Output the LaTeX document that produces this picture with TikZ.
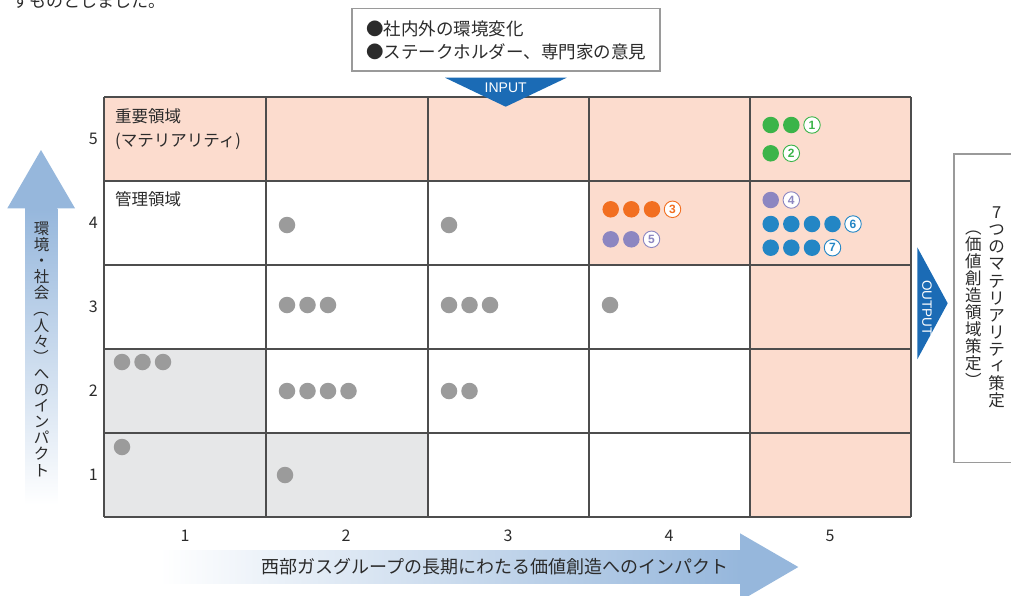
\documentclass[tikz,border=0pt]{standalone}
\usepackage{graphicx}
\usepackage{fontspec}
\setmainfont{Noto Sans CJK JP}
\newfontfamily\vfont{Noto Sans CJK JP}
\newfontfamily\numfont{Liberation Sans}
\definecolor{pinkc}{HTML}{FCDCCE}
\definecolor{grayc}{HTML}{E6E7E8}
\definecolor{gridc}{HTML}{4D4D4D}
\definecolor{boxc}{HTML}{9A9A9A}
\definecolor{txtc}{HTML}{2B2B2B}
\definecolor{arrowblue}{HTML}{96B7DC}
\definecolor{outblue}{HTML}{1B6BB5}
\definecolor{dgray}{HTML}{9B9B9B}
\definecolor{dgreen}{HTML}{3BB449}
\definecolor{dorange}{HTML}{F26F21}
\definecolor{dpurple}{HTML}{8C86C1}
\definecolor{dblue}{HTML}{2386C5}
\newcommand{\smallI}{\makebox[1em]{\hspace{0.15em}\raisebox{0.15em}{ィ}}}
\newcommand{\vlp}{\makebox[1em]{\rotatebox[origin=c]{-90}{（}}}
\newcommand{\vrp}{\makebox[1em]{\rotatebox[origin=c]{-90}{）}}}
\tikzset{
  gridline/.style={draw=gridc, line width=1.2pt},
  dotc/.style={circle, fill=#1, minimum size=16.5pt, inner sep=0pt},
  num/.style={circle, draw=#1, fill=white, line width=0.9pt, minimum size=16.5pt, inner sep=0pt, text=#1, font=\numfont\bfseries\fontsize{12}{12}\selectfont},
  jtext/.style={text=txtc, inner sep=0pt},
  axnum/.style={text=txtc, inner sep=0pt, font=\fontsize{16}{16}\selectfont},
}
\begin{document}
\begin{tikzpicture}[x=1pt,y=-1pt]
\path[use as bounding box, clip] (0,0) rectangle (1011,595);
% cut-off text at top left
\node[jtext, anchor=west, font=\fontsize{17}{17}\selectfont] (frag) at (12,1.5) {すものとしました。};
% cell fills
\fill[pinkc] (104,97) rectangle (911,181);
\fill[pinkc] (589,181) rectangle (911,265);
\fill[pinkc] (750,265) rectangle (911,517);
\fill[grayc] (104,349) rectangle (266,517);
\fill[grayc] (266,433) rectangle (428,517);
% grid
\foreach \x in {104,266,428,589,750,911} \draw[gridline] (\x,97) -- (\x,517);
\foreach \y in {97,181,265,349,433,517} \draw[gridline] (104,\y) -- (911,\y);
% top box
\node[draw=boxc, line width=1.5pt, fill=white, minimum width=308pt, minimum height=62.7pt, inner sep=0pt] (inbox) at (505.9,39.7) {};
\node[jtext, anchor=west, font=\fontsize{17.5}{17.5}\selectfont] (in1) at (366,29.3) {●社内外の環境変化};
\node[jtext, anchor=west, font=\fontsize{17.5}{17.5}\selectfont] (in2) at (366,51.7) {●ステークホルダー、専門家の意見};
% INPUT triangle
\fill[outblue] (445,77.7) -- (566.7,77.7) -- (505.7,106.7) -- cycle;
\node[text=white, inner sep=0pt, font=\numfont\fontsize{14}{14}\selectfont] (inlab) at (505.7,87.5) {INPUT};
% OUTPUT triangle
\fill[outblue] (917.3,247.3) -- (947.7,303.3) -- (917.3,359.3) -- cycle;
\node[text=white, inner sep=0pt, rotate=-90, font=\numfont\fontsize{13.5}{13.5}\selectfont] (outlab) at (927,308) {OUTPUT};
% right box
\node[draw=boxc, line width=1.5pt, fill=white, minimum width=80pt, minimum height=308.4pt, inner sep=0pt, anchor=north west] (outbox) at (953.3,153.3) {};
\node[jtext, align=center, font=\vfont\fontsize{16.5}{17.1}\selectfont] (out1) at (996.7,307.5) {7\\つ\\の\\マ\\テ\\リ\\ア\\リ\\テ\\\smallI\\策\\定};
\node[jtext, align=center, font=\vfont\fontsize{16.5}{17}\selectfont] (out2) at (973.3,304) {\vlp\\価\\値\\創\\造\\領\\域\\策\\定\\\vrp};
% left arrow
\fill[arrowblue] (7.3,208.3) -- (41,150) -- (75,208.3) -- cycle;
\shade[top color=arrowblue, bottom color=white] (25,208) rectangle (57.3,505);
\node[jtext, align=center, font=\vfont\fontsize{15.5}{16.1}\selectfont] (ltext) at (41.7,349.3) {環\\境\\・\\社\\会\\\vlp\\人\\々\\\vrp\\へ\\の\\イ\\ン\\パ\\ク\\ト};
% bottom arrow
\shade[left color=white, right color=arrowblue] (160,550) rectangle (740.5,583.3);
\fill[arrowblue] (740,533.3) -- (798.3,567) -- (740,601) -- cycle;
\node[jtext, font=\fontsize{18}{18}\selectfont] (btext) at (494.7,566.5) {西部ガスグループの長期にわたる価値創造へのインパクト};
% axis numbers
\foreach \t/\y in {5/139,4/223,3/307,2/391,1/475} \node[axnum] (ry\t) at (93.3,\y) {\t};
\foreach \t/\x in {1/185,2/346,3/508,4/669,5/830} \node[axnum] (cx\t) at (\x,535.5) {\t};
% cell labels
\node[jtext, anchor=west, font=\fontsize{16.5}{16.5}\selectfont] (lab1) at (115,116.7) {重要領域};
\node[jtext, anchor=west, font=\fontsize{16.5}{16.5}\selectfont] (lab2) at (115,141) {(マテリアリティ)};
\node[jtext, anchor=west, font=\fontsize{16.5}{16.5}\selectfont] (lab3) at (115,199) {管理領域};
% gray dots
\foreach \p [count=\i] in {(287,225),(449,225),
  (287,305),(307.5,305),(328,305),(449,305),(469.5,305),(490,305),(610,305),
  (122,362),(142.5,362),(163,362),
  (287,391),(307.5,391),(328,391),(348.5,391),(449,391),(469.5,391),
  (122,447),(285,475)}
  \node[dotc=dgray] (g\i) at \p {};
% green
\node[dotc=dgreen] (gr1) at (770.7,125) {};
\node[dotc=dgreen] (gr2) at (791.3,125) {};
\node[num=dgreen] (n1) at (812,125) {1};
\node[dotc=dgreen] (gr3) at (770.7,153.3) {};
\node[num=dgreen] (n2) at (791.3,153.3) {2};
% orange
\node[dotc=dorange] (or1) at (610.7,209.3) {};
\node[dotc=dorange] (or2) at (631.3,209.3) {};
\node[dotc=dorange] (or3) at (652,209.3) {};
\node[num=dorange] (n3) at (672.5,209.3) {3};
% purple
\node[dotc=dpurple] (pu1) at (610.7,239.3) {};
\node[dotc=dpurple] (pu2) at (631.3,239.3) {};
\node[num=dpurple] (n5) at (651.5,239.3) {5};
\node[dotc=dpurple] (pu3) at (770.7,200) {};
\node[num=dpurple] (n4) at (791.3,200) {4};
% blue
\node[dotc=dblue] (bl1) at (770.7,224) {};
\node[dotc=dblue] (bl2) at (791.3,224) {};
\node[dotc=dblue] (bl3) at (812,224) {};
\node[dotc=dblue] (bl4) at (832.5,224) {};
\node[num=dblue] (n6) at (853,224) {6};
\node[dotc=dblue] (bl5) at (770.7,247.7) {};
\node[dotc=dblue] (bl6) at (791.3,247.7) {};
\node[dotc=dblue] (bl7) at (812,247.7) {};
\node[num=dblue] (n7) at (832.5,247.7) {7};
\end{tikzpicture}
\end{document}
